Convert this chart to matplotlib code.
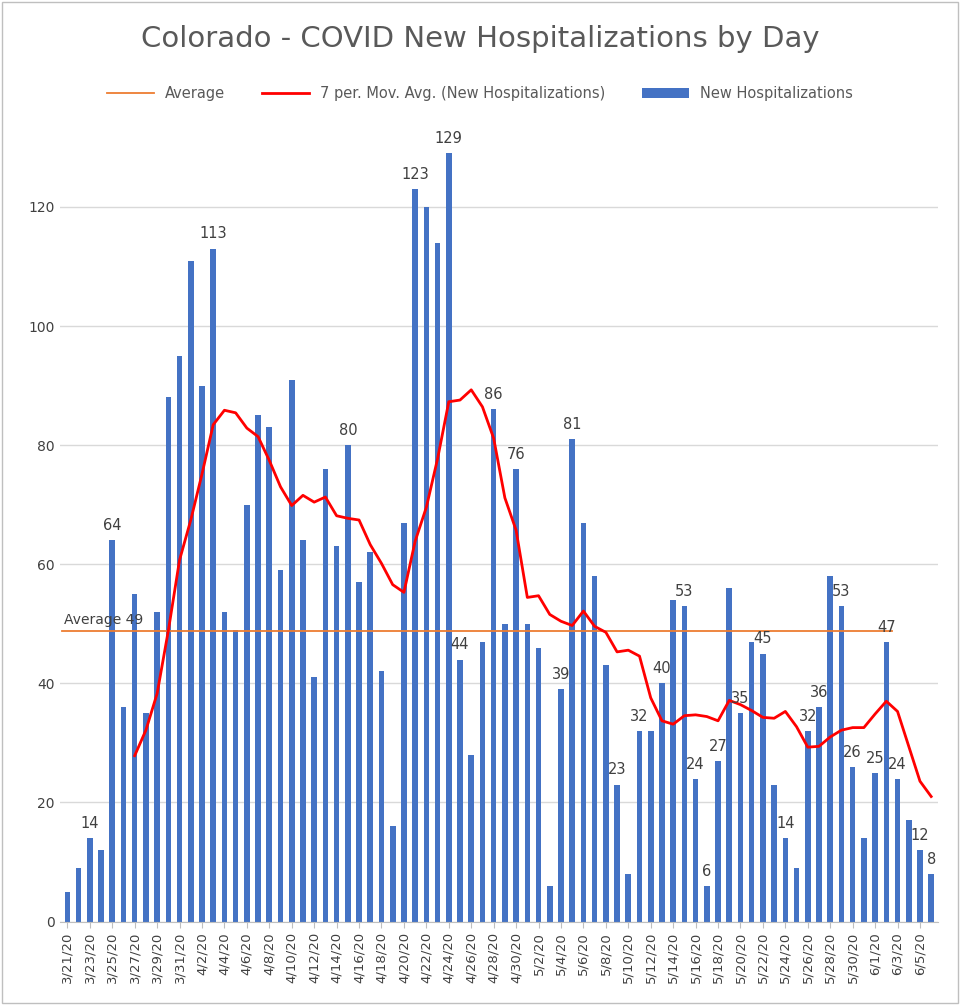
#!/usr/bin/env python3
import datetime as dt
import matplotlib
matplotlib.use('Agg')
import matplotlib.pyplot as plt
import numpy as np
import pandas as pd

START = dt.date(2020, 3, 21)
VALUES = [5, 9, 14, 12, 64, 36, 55, 35, 52, 88, 95, 111, 90, 113, 52, 49, 70, 85, 83, 59,
          91, 64, 41, 76, 63, 80, 57, 62, 42, 16, 67, 123, 120, 114, 129, 44, 28, 47, 86, 50,
          76, 50, 46, 6, 39, 81, 67, 58, 43, 23, 8, 32, 32, 40, 54, 53, 24, 6, 27, 56,
          35, 47, 45, 23, 14, 9, 32, 36, 58, 53, 26, 14, 25, 47, 24, 17, 12, 8]
LABELED = ['3/23', '3/25', '4/3', '4/15', '4/21', '4/24', '4/25', '4/28', '4/30', '5/4', '5/5',
           '5/9', '5/11', '5/13', '5/15', '5/16', '5/17', '5/18', '5/20', '5/22', '5/24',
           '5/26', '5/27', '5/29', '5/30', '6/1', '6/2', '6/3', '6/5', '6/6']
AVERAGE = 48.8
AVG_END = '6/2'

dates = [START + dt.timedelta(days=i) for i in range(len(VALUES))]
labels = ['%d/%d/20' % (d.month, d.day) for d in dates]
short = ['%d/%d' % (d.month, d.day) for d in dates]
x = np.arange(len(VALUES))
mov = pd.Series(VALUES).rolling(7).mean()

BLUE = '#4472C4'
fig = plt.figure(figsize=(9.6, 10.05), dpi=100)
ax = fig.add_axes([0.062, 0.083, 0.915, 0.80])
ax.bar(x, VALUES, width=0.5, color=BLUE, label='New Hospitalizations', zorder=2)
end = short.index(AVG_END)
ax.plot([-0.5, end + 0.5], [AVERAGE, AVERAGE], color='#ED7D31', lw=1.3, label='Average', zorder=3)
ax.plot(x, mov, color='#FF0000', lw=2, label='7 per. Mov. Avg. (New Hospitalizations)', zorder=4)
ax.text(-0.3, AVERAGE + 0.6, 'Average 49', fontsize=10, color='#404040', va='bottom', zorder=5)

for s in LABELED:
    i = short.index(s)
    ax.text(i, VALUES[i] + 1.2, str(VALUES[i]), ha='center', va='bottom', fontsize=10.5, color='#404040', zorder=5)

ax.set_xlim(-0.7, len(VALUES) - 0.4)
ax.set_ylim(0, 135)
ax.set_yticks(range(0, 121, 20))
ax.set_xticks(x[::2])
ax.set_xticklabels(labels[::2], rotation=90, fontsize=9.5, color='#404040')
ax.tick_params(axis='y', labelsize=10, colors='#404040', length=0)
ax.tick_params(axis='x', length=4, color='#BFBFBF')
ax.grid(axis='y', color='#D9D9D9', lw=1, zorder=0)
for sp in ['top', 'right', 'left']:
    ax.spines[sp].set_visible(False)
ax.spines['bottom'].set_color('#BFBFBF')

fig.suptitle('Colorado - COVID New Hospitalizations by Day', y=0.975, fontsize=21, color='#595959')
fig.legend(loc='upper center', bbox_to_anchor=(0.5, 0.927), ncol=3, frameon=False,
           fontsize=10.5, labelcolor='#595959', handlelength=3.2, columnspacing=2.5)
fig.patches.append(plt.Rectangle((0.002, 0.002), 0.996, 0.996, transform=fig.transFigure,
                                 fill=False, edgecolor='#BFBFBF', lw=1))
fig.savefig('out.png', dpi=100)
